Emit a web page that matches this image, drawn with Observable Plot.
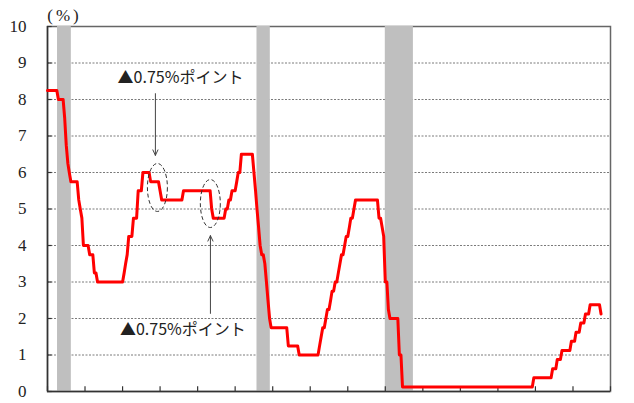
<!DOCTYPE html>
<html><head><meta charset="utf-8">
<script src="https://cdn.jsdelivr.net/npm/d3@7"></script>
<script src="https://cdn.jsdelivr.net/npm/@observablehq/plot@0.6"></script>
<style>
body{margin:0;background:#fff}
svg text.serifLabel{font-family:"Liberation Serif","DejaVu Serif","Times New Roman",serif !important}
svg text.unitLabel{letter-spacing:3px}
</style>
</head><body><div id="chart"></div>
<script>
// Monthly policy-rate values (%), starting January 1990
const startYear = 1990;
const rates1990s = [
  8.25,8.25,8.25,8.25,8.25,8.25,8.25,8.0,8.0,8.0,8.0,7.5,      // 1990
  6.75,6.25,6.0,5.75,5.75,5.75,5.75,5.75,5.25,5.0,4.75,4.0,    // 1991
  4.0,4.0,4.0,3.75,3.75,3.75,3.25,3.25,3.0,3.0,3.0,3.0,        // 1992
  3.0,3.0,3.0,3.0,3.0,3.0,3.0,3.0,3.0,3.0,3.0,3.0,             // 1993
  3.0,3.25,3.5,3.75,4.25,4.25,4.25,4.75,4.75,4.75,5.5,5.5,     // 1994
  5.5,6.0,6.0,6.0,6.0,6.0,5.75,5.75,5.75,5.75,5.75,5.75,       // 1995
  5.5,5.25,5.25,5.25,5.25,5.25,5.25,5.25,5.25,5.25,5.25,5.25,  // 1996
  5.25,5.25,5.25,5.5,5.5,5.5,5.5,5.5,5.5,5.5,5.5,5.5,          // 1997
  5.5,5.5,5.5,5.5,5.5,5.5,5.5,5.5,5.5,5.0,4.75,4.75,           // 1998
  4.75,4.75,4.75,4.75,4.75,4.75,5.0,5.0,5.25,5.25,5.5,5.5      // 1999
];
const rates2000s = [
  5.5,5.75,6.0,6.0,6.5,6.5,6.5,6.5,6.5,6.5,6.5,6.5,            // 2000
  6.0,5.5,5.0,4.5,4.0,3.75,3.75,3.5,3.0,2.5,2.0,1.75,          // 2001
  1.75,1.75,1.75,1.75,1.75,1.75,1.75,1.75,1.75,1.75,1.25,1.25, // 2002
  1.25,1.25,1.25,1.25,1.25,1.0,1.0,1.0,1.0,1.0,1.0,1.0,        // 2003
  1.0,1.0,1.0,1.0,1.0,1.0,1.25,1.5,1.75,1.75,2.0,2.25,         // 2004
  2.25,2.5,2.75,2.75,3.0,3.0,3.25,3.5,3.75,3.75,4.0,4.25,      // 2005
  4.25,4.5,4.75,4.75,5.0,5.25,5.25,5.25,5.25,5.25,5.25,5.25,   // 2006
  5.25,5.25,5.25,5.25,5.25,5.25,5.25,5.25,4.75,4.75,4.5,4.25,  // 2007
  3.0,3.0,2.25,2.0,2.0,2.0,2.0,2.0,2.0,1.0,1.0,0.125,          // 2008
  0.125,0.125,0.125,0.125,0.125,0.125,0.125,0.125,0.125,0.125,0.125,0.125 // 2009
];
const rates2010s = [
  0.125,0.125,0.125,0.125,0.125,0.125,0.125,0.125,0.125,0.125,0.125,0.125, // 2010
  0.125,0.125,0.125,0.125,0.125,0.125,0.125,0.125,0.125,0.125,0.125,0.125, // 2011
  0.125,0.125,0.125,0.125,0.125,0.125,0.125,0.125,0.125,0.125,0.125,0.125, // 2012
  0.125,0.125,0.125,0.125,0.125,0.125,0.125,0.125,0.125,0.125,0.125,0.125, // 2013
  0.125,0.125,0.125,0.125,0.125,0.125,0.125,0.125,0.125,0.125,0.125,0.125, // 2014
  0.125,0.125,0.125,0.125,0.125,0.125,0.125,0.125,0.125,0.125,0.125,0.375, // 2015
  0.375,0.375,0.375,0.375,0.375,0.375,0.375,0.375,0.375,0.375,0.375,0.625, // 2016
  0.625,0.625,0.875,0.875,0.875,1.125,1.125,1.125,1.125,1.125,1.125,1.375, // 2017
  1.375,1.375,1.625,1.625,1.625,1.875,1.875,1.875,2.125,2.125,2.125,2.375, // 2018
  2.375,2.375,2.375,2.375,2.375,2.375,2.125                                 // 2019
];

// Recession shading
const recessionStart = ["1990-07-15", "2001-03-01", "2008-01-01"];
const recessionEnd   = ["1991-04-10", "2001-11-15", "2009-07-01"];

// Axis ticks
const yTicks = [0,1,2,3,4,5,6,7,8,9,10];
const gridValues = [1,2,3,4,5,6,7,8,9];
const xTickYears = [1990,1992,1994,1996,1998,2000,2002,2004,2006,2008,2010,2012,2014,2016,2018,2020];
const unitLabel = "(%)";

// Annotations
const annText = "▲0.75%ポイント";
const annLabels = [
  {date: "1997-02-01", value: 8.58},
  {date: "1997-03-20", value: 1.70}
];
const annEllipses = [
  {date: "1995-11-10", value: 5.59},
  {date: "1998-09-05", value: 5.15}
];
const annArrows = [
  {date: "1995-10-02", from: 8.16, to: 6.47},
  {date: "1998-09-07", from: 2.14, to: 4.27}
];

const U = s => new Date(s + "T00:00:00Z");
const rates = [...rates1990s, ...rates2000s, ...rates2010s];
const series = rates.map((v, i) => ({date: new Date(Date.UTC(startYear, i, 1)), rate: v}));
const recessions = recessionStart.map((s, i) => ({start: U(s), end: U(recessionEnd[i])}));
const xTicks = xTickYears.map(y => new Date(Date.UTC(y, 0, 1)));
const x0 = new Date(Date.UTC(1990, 0, 1));
const x1 = new Date(Date.UTC(2020, 0, 1));

function ellipseSymbol(rx, ry) {
  const k = 0.5523;
  return {draw(ctx) {
    ctx.moveTo(rx, 0);
    ctx.bezierCurveTo(rx, k*ry, k*rx, ry, 0, ry);
    ctx.bezierCurveTo(-k*rx, ry, -rx, k*ry, -rx, 0);
    ctx.bezierCurveTo(-rx, -k*ry, -k*rx, -ry, 0, -ry);
    ctx.bezierCurveTo(k*rx, -ry, rx, -k*ry, rx, 0);
    ctx.closePath();
  }};
}

const serif = "Liberation Serif";
const jp = "Noto Sans CJK JP";

const chart = Plot.plot({
  width: 634,
  height: 403,
  marginLeft: 47,
  marginRight: 24,
  marginTop: 26,
  marginBottom: 12,
  style: {background: "#fff", overflow: "visible"},
  x: {type: "utc", domain: [x0, x1], axis: null},
  y: {domain: [0, 10], axis: null},
  marks: [
    Plot.gridY(gridValues, {stroke: "#7a7a7a", strokeOpacity: 1, strokeDasharray: "2,1.5", strokeWidth: 1}),
    Plot.frame({stroke: "#666", strokeWidth: 1.5}),
    Plot.rect(recessions, {x1: "start", x2: "end", y1: 0, y2: 10, fill: "#bfbfbf"}),
    Plot.ruleY([0], {stroke: "#333", strokeWidth: 1.5}),
    Plot.ruleX([x0], {stroke: "#333", strokeWidth: 1.5}),
    Plot.ruleX(xTicks, {y1: 0, y2: 0.13, stroke: "#333", strokeWidth: 1.2}),
    Plot.ruleY(yTicks, {x1: x0, x2: new Date(Date.UTC(1990, 3, 1)), stroke: "#333", strokeWidth: 1.2}),
    Plot.axisY(yTicks, {tickSize: 0, tickPadding: 21, fontSize: 17, fontFamily: serif, fill: "#222"}),
    Plot.text([unitLabel], {frameAnchor: "top-left", dx: 17, dy: -11, textAnchor: "middle", lineAnchor: "middle", fontSize: 17, fontFamily: serif, fill: "#222"}),
    Plot.line(series, {x: "date", y: "rate", stroke: "#ff0000", strokeWidth: 3, strokeLinejoin: "round"}),
    Plot.dot(annEllipses, {x: d => U(d.date), y: "value", symbol: ellipseSymbol(10, 24), stroke: "#333", strokeWidth: 1, strokeDasharray: "4,2.5", fill: "none"}),
    Plot.arrow(annArrows, {x1: d => U(d.date), x2: d => U(d.date), y1: "from", y2: "to", stroke: "#444", strokeWidth: 1, headLength: 9, headAngle: 50}),
    Plot.text(annLabels, {x: d => U(d.date), y: "value", text: () => annText, fontSize: 16, fontFamily: jp, fill: "#222", textAnchor: "middle", lineAnchor: "middle"})
  ]
});
const yLabelSet = new Set(yTicks.map(String));
d3.select(chart).selectAll("text")
  .filter(function() { return yLabelSet.has(this.textContent) || this.textContent === unitLabel; })
  .classed("serifLabel", true)
  .classed("unitLabel", function() { return this.textContent === unitLabel; });
document.getElementById("chart").appendChild(chart);
</script>
</body></html>
